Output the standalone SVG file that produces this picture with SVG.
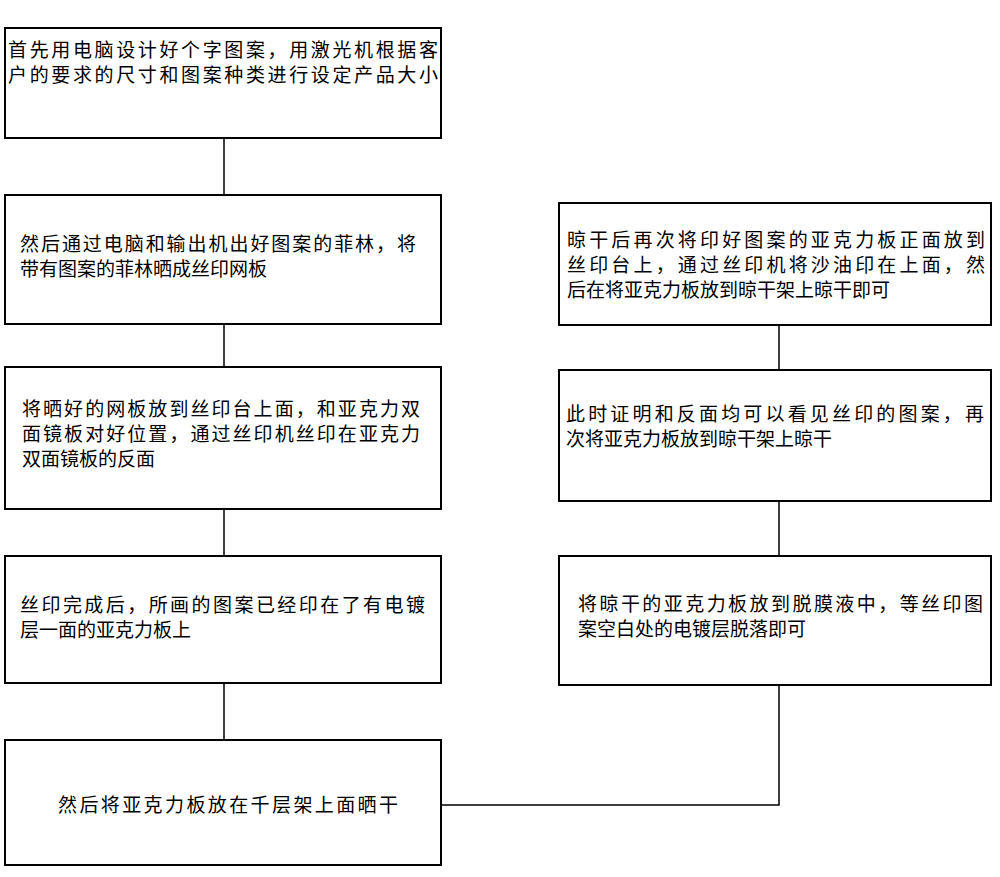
<svg xmlns="http://www.w3.org/2000/svg" width="1000" height="877" viewBox="0 0 1000 877">
<style>
rect{fill:#fff;stroke:#000;stroke-width:2}
text{font-family:"Noto Sans CJK SC",sans-serif;font-size:19px;fill:#000}
.c{fill:none;stroke:#000;stroke-width:1.5}
</style>
<rect x="0" y="0" width="1000" height="877" style="stroke:none"/>
<g id="connectors">
<path class="c" d="M224 138V195M224 324V367M224 509V556M224 683V740M441 805H779V685M779 501V556M779 325V370"/>
</g>
<g id="n1"><rect x="5" y="28" width="436" height="110"/>
<text x="8" y="57" textLength="430">首先用电脑设计好个字图案，用激光机根据客</text>
<text x="8" y="82" textLength="430">户的要求的尺寸和图案种类进行设定产品大小</text></g>
<g id="n2"><rect x="5" y="195" width="436" height="129"/>
<text x="20" y="251" textLength="396">然后通过电脑和输出机出好图案的菲林，将</text>
<text x="20" y="276">带有图案的菲林晒成丝印网板</text></g>
<g id="n3"><rect x="5" y="367" width="436" height="142"/>
<text x="22" y="416" textLength="398">将晒好的网板放到丝印台上面，和亚克力双</text>
<text x="22" y="441" textLength="398">面镜板对好位置，通过丝印机丝印在亚克力</text>
<text x="22" y="466">双面镜板的反面</text></g>
<g id="n4"><rect x="5" y="556" width="436" height="127"/>
<text x="20" y="612" textLength="405">丝印完成后，所画的图案已经印在了有电镀</text>
<text x="20" y="637">层一面的亚克力板上</text></g>
<g id="n5"><rect x="5" y="740" width="436" height="125"/>
<text x="58" y="812" textLength="340">然后将亚克力板放在千层架上面晒干</text></g>
<g id="r1"><rect x="559" y="203" width="432" height="122"/>
<text x="567" y="247" textLength="418">晾干后再次将印好图案的亚克力板正面放到</text>
<text x="567" y="272" textLength="418">丝印台上，通过丝印机将沙油印在上面，然</text>
<text x="567" y="297">后在将亚克力板放到晾干架上晾干即可</text></g>
<g id="r2"><rect x="559" y="370" width="432" height="131"/>
<text x="566" y="421" textLength="418">此时证明和反面均可以看见丝印的图案，再</text>
<text x="566" y="446">次将亚克力板放到晾干架上晾干</text></g>
<g id="r3"><rect x="559" y="556" width="432" height="129"/>
<text x="578" y="611" textLength="405">将晾干的亚克力板放到脱膜液中，等丝印图</text>
<text x="578" y="636">案空白处的电镀层脱落即可</text></g>
</svg>
